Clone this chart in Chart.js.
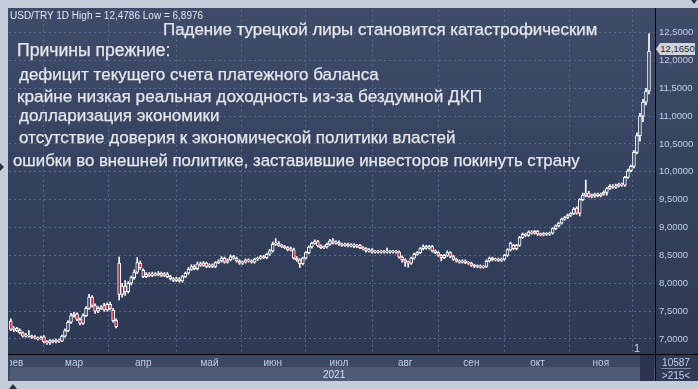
<!DOCTYPE html>
<html>
<head>
<meta charset="utf-8">
<script src="https://cdn.jsdelivr.net/npm/chart.js@4.4.1/dist/chart.umd.min.js"></script>
<style>
html, body { margin: 0; padding: 0; }
body { width: 698px; height: 389px; background: #c3ccd8; position: relative; overflow: hidden;
       font-family: "Liberation Sans", Arial, sans-serif; }
#panel { position: absolute; left: 8px; top: 8px; width: 690px; height: 346px;
         background: linear-gradient(#3e4c6a, #2c3854); }
#band1 { position: absolute; left: 8px; top: 354px; width: 647px; height: 13px; background: #3c4862; }
#band2 { position: absolute; left: 8px; top: 367px; width: 647px; height: 14px; background: #4e5b75; }
#rbox { position: absolute; left: 655px; top: 354px; width: 43px; height: 27px; background: #2e3a56; }
#vline { position: absolute; left: 655px; top: 8px; width: 1px; height: 373px; background: #000; }
#hline { position: absolute; left: 8px; top: 354px; width: 690px; height: 1px; background: #000; }
#scroll { position: absolute; left: 640px; top: 355px; width: 14px; height: 26px; background: #2a344e; }
#lcover { position: absolute; left: 0; top: 0; width: 8px; height: 389px; background: #c3ccd8; }
#bcover { position: absolute; left: 8px; top: 355px; width: 2px; height: 26px; background: #3a465f; }
canvas { position: absolute; left: 0; top: 0; }
.t { position: absolute; color: #e6e7ea; white-space: nowrap; font-size: 17px; line-height: 18px;
     -webkit-text-stroke: 0.25px #e6e7ea; }
.s { position: absolute; color: #c4d0ea; white-space: nowrap; font-size: 10px; line-height: 11px; }
</style>
</head>
<body>
<div id="panel"></div>
<div id="band1"></div>
<div id="band2"></div>
<div id="rbox"></div>
<div id="scroll"></div>
<canvas id="chart" width="698" height="389"></canvas>
<div id="lcover"></div>
<div id="bcover"></div>
<div id="vline"></div>
<div id="hline"></div>

<div class="s" style="left:10px;top:10px;color:#e0e6f2;">USD/TRY 1D High = 12,4786 Low = 6,8976</div>
<div class="t" style="left:163px;top:21px;font-size:16.9px;">Падение турецкой лиры становится катастрофическим</div>
<div class="t" style="left:17px;top:41px;font-size:17.6px;">Причины прежние:</div>
<div class="t" style="left:19px;top:66px;">дефицит текущего счета платежного баланса</div>
<div class="t" style="left:17px;top:87px;font-size:17.2px;">крайне низкая реальная доходность из-за бездумной ДКП</div>
<div class="t" style="left:19px;top:107px;">долларизация экономики</div>
<div class="t" style="left:19px;top:129px;">отсутствие доверия к экономической политики властей</div>
<div class="t" style="left:13px;top:152px;font-size:16.8px;">ошибки во внешней политике, заставившие инвесторов покинуть страну</div>

<div style="position:absolute;left:656px;top:43px;width:0;height:0;border-top:6px solid transparent;border-bottom:6px solid transparent;border-right:4px solid #cfd3d9;"></div>
<div class="s" style="left:660px;top:43px;width:35px;height:12px;line-height:12px;background:#cfd3d9;color:#262a33;text-align:center;font-size:9.5px;">12,1650</div>

<div class="s" style="left:634px;top:343px;font-size:11px;color:#c8d0e0;">1</div>
<div class="s" style="left:323px;top:369px;font-size:10px;color:#d8e0ee;">2021</div>
<div class="s" style="left:660px;top:357px;width:32px;text-align:center;">10587</div>
<div style="position:absolute;left:661px;top:368px;width:30px;height:1px;background:#7d8aa6;"></div>
<div class="s" style="left:660px;top:370px;width:32px;text-align:center;">&gt;215&lt;</div>

<div style="position:absolute;left:0;top:163px;width:0;height:0;border-top:4px solid transparent;border-bottom:4px solid transparent;border-left:4px solid #2a3140;"></div>
<div style="position:absolute;left:9px;top:384px;width:0;height:0;border-left:4px solid transparent;border-right:4px solid transparent;border-bottom:5px solid #2a3140;"></div>
<div style="position:absolute;left:691px;top:0;width:0;height:0;border-left:3px solid transparent;border-right:3px solid transparent;border-top:4px solid #2a3140;"></div>

<script>
// daily candles, 29 Jan 2021 .. 23 Nov 2021 (index = trading day)
const opens = [
  7.32,7.17,7.19,7.16,7.11,7.05,7.07,7.05,7.03,7.02,
  7.00,7.04,6.95,6.93,6.97,6.95,6.98,6.96,7.05,7.15,
  7.30,7.42,7.45,7.35,7.28,7.42,7.55,7.75,7.60,7.50,
  7.55,7.60,7.52,7.62,7.52,7.33,8.36,7.80,7.95,7.85,
  8.00,8.10,8.20,8.36,8.23,8.12,8.16,8.14,8.17,8.15,
  8.18,8.14,8.17,8.12,8.08,8.05,8.08,8.04,8.12,8.18,
  8.25,8.30,8.26,8.35,8.32,8.36,8.30,8.33,8.30,8.37,
  8.40,8.45,8.38,8.42,8.48,8.45,8.40,8.36,8.38,8.42,
  8.40,8.38,8.43,8.45,8.48,8.46,8.52,8.58,8.70,8.72,
  8.68,8.66,8.64,8.60,8.60,8.45,8.42,8.35,8.45,8.55,
  8.65,8.72,8.75,8.67,8.64,8.65,8.70,8.76,8.72,8.74,
  8.70,8.68,8.70,8.67,8.69,8.66,8.68,8.64,8.62,8.58,
  8.60,8.56,8.57,8.56,8.57,8.56,8.57,8.56,8.57,8.56,
  8.47,8.42,8.38,8.36,8.45,8.52,8.55,8.62,8.66,8.63,
  8.66,8.58,8.55,8.50,8.46,8.50,8.55,8.48,8.43,8.40,
  8.38,8.40,8.37,8.36,8.32,8.30,8.31,8.29,8.30,8.40,
  8.45,8.42,8.43,8.41,8.43,8.50,8.60,8.68,8.62,8.68,
  8.82,8.88,8.86,8.92,8.90,8.93,8.88,8.87,8.89,8.88,
  8.90,8.98,9.03,9.08,9.15,9.18,9.22,9.25,9.35,9.26,
  9.50,9.58,9.62,9.56,9.57,9.60,9.57,9.60,9.63,9.70,
  9.74,9.72,9.75,9.78,9.76,9.90,10.02,10.10,10.35,10.65,
  11.00,11.25,11.45
];
const highs = [
  7.36,7.22,7.21,7.18,7.13,7.10,7.15,7.07,7.06,7.04,
  7.05,7.06,6.97,6.99,6.99,7.00,7.00,7.07,7.18,7.33,
  7.46,7.48,7.47,7.38,7.45,7.58,7.80,7.78,7.63,7.58,
  7.60,7.64,7.65,7.66,7.55,7.36,8.47,8.00,8.05,8.03,
  8.13,8.24,8.46,8.40,8.26,8.19,8.19,8.20,8.19,8.21,
  8.20,8.19,8.19,8.14,8.10,8.11,8.10,8.14,8.20,8.28,
  8.33,8.33,8.38,8.38,8.39,8.38,8.35,8.35,8.39,8.42,
  8.48,8.47,8.44,8.51,8.50,8.47,8.42,8.40,8.44,8.44,
  8.42,8.45,8.47,8.50,8.50,8.54,8.61,8.74,8.80,8.75,
  8.70,8.68,8.66,8.65,8.63,8.48,8.44,8.47,8.57,8.67,
  8.74,8.78,8.77,8.69,8.67,8.72,8.79,8.80,8.76,8.76,
  8.72,8.72,8.72,8.71,8.71,8.70,8.70,8.66,8.64,8.62,
  8.62,8.59,8.59,8.59,8.59,8.63,8.59,8.59,8.59,8.58,
  8.49,8.44,8.40,8.47,8.54,8.57,8.64,8.69,8.68,8.68,
  8.68,8.60,8.57,8.52,8.52,8.58,8.57,8.50,8.45,8.42,
  8.42,8.42,8.39,8.38,8.34,8.33,8.33,8.32,8.42,8.47,
  8.47,8.45,8.45,8.45,8.52,8.62,8.74,8.70,8.70,8.84,
  8.90,8.90,8.94,8.94,8.95,8.95,8.90,8.91,8.91,8.92,
  9.00,9.05,9.10,9.17,9.20,9.24,9.27,9.36,9.37,9.52,
  9.62,9.85,9.65,9.60,9.62,9.62,9.62,9.66,9.72,9.77,
  9.77,9.78,9.80,9.80,9.92,10.05,10.12,10.38,10.70,11.05,
  11.30,11.50,12.4786
];
const lows = [
  7.15,7.13,7.13,7.09,7.03,7.03,7.03,7.01,7.00,6.98,
  6.99,6.93,6.90,6.90,6.93,6.93,6.94,6.95,7.03,7.13,
  7.28,7.39,7.33,7.25,7.26,7.40,7.53,7.57,7.46,7.47,
  7.53,7.50,7.50,7.52,7.30,7.20,7.70,7.75,7.78,7.82,
  7.97,8.07,8.17,8.25,8.10,8.10,8.12,8.12,8.13,8.13,
  8.12,8.12,8.10,8.06,8.03,8.03,8.02,8.02,8.10,8.16,
  8.23,8.24,8.24,8.30,8.30,8.28,8.28,8.28,8.28,8.35,
  8.38,8.36,8.36,8.40,8.43,8.38,8.34,8.34,8.36,8.38,
  8.36,8.36,8.41,8.43,8.44,8.44,8.50,8.56,8.68,8.66,
  8.64,8.62,8.58,8.58,8.43,8.39,8.28,8.33,8.43,8.53,
  8.63,8.70,8.65,8.62,8.62,8.63,8.68,8.70,8.70,8.68,
  8.66,8.66,8.65,8.65,8.64,8.64,8.62,8.60,8.56,8.56,
  8.54,8.54,8.54,8.54,8.54,8.54,8.54,8.54,8.54,8.45,
  8.38,8.30,8.29,8.34,8.43,8.50,8.53,8.60,8.61,8.61,
  8.56,8.53,8.48,8.40,8.44,8.48,8.46,8.41,8.38,8.36,
  8.36,8.35,8.34,8.30,8.28,8.28,8.27,8.27,8.28,8.38,
  8.40,8.40,8.39,8.39,8.41,8.48,8.58,8.60,8.60,8.66,
  8.80,8.84,8.84,8.88,8.88,8.86,8.85,8.85,8.86,8.86,
  8.88,8.96,9.01,9.06,9.13,9.16,9.20,9.23,9.24,9.21,
  9.48,9.55,9.54,9.53,9.54,9.55,9.55,9.58,9.58,9.68,
  9.70,9.70,9.73,9.74,9.74,9.88,10.00,10.07,10.32,10.55,
  10.90,11.20,11.40
];
const closes = [
  7.17,7.19,7.15,7.11,7.05,7.07,7.05,7.03,7.02,7.00,
  7.02,6.95,6.93,6.97,6.95,6.98,6.96,7.05,7.15,7.30,
  7.42,7.45,7.35,7.28,7.42,7.55,7.75,7.60,7.50,7.55,
  7.57,7.52,7.62,7.55,7.33,7.22,7.80,7.95,7.85,8.00,
  8.10,8.20,8.37,8.28,8.12,8.16,8.14,8.17,8.15,8.18,
  8.14,8.17,8.12,8.08,8.05,8.08,8.04,8.12,8.18,8.25,
  8.30,8.26,8.35,8.32,8.36,8.30,8.33,8.30,8.37,8.40,
  8.45,8.38,8.42,8.48,8.45,8.40,8.36,8.38,8.42,8.40,
  8.38,8.43,8.45,8.48,8.46,8.52,8.58,8.70,8.72,8.68,
  8.66,8.64,8.60,8.62,8.45,8.42,8.35,8.45,8.55,8.65,
  8.72,8.75,8.67,8.64,8.65,8.70,8.76,8.72,8.74,8.70,
  8.68,8.70,8.67,8.69,8.66,8.68,8.64,8.62,8.58,8.60,
  8.56,8.57,8.56,8.57,8.56,8.57,8.56,8.57,8.56,8.47,
  8.42,8.38,8.36,8.45,8.52,8.55,8.62,8.66,8.63,8.66,
  8.58,8.55,8.50,8.46,8.50,8.55,8.48,8.43,8.40,8.38,
  8.40,8.37,8.36,8.32,8.30,8.31,8.29,8.30,8.40,8.45,
  8.42,8.43,8.41,8.43,8.50,8.60,8.72,8.62,8.68,8.82,
  8.88,8.86,8.92,8.90,8.93,8.88,8.87,8.89,8.88,8.90,
  8.98,9.03,9.08,9.15,9.18,9.22,9.25,9.33,9.26,9.50,
  9.58,9.62,9.56,9.57,9.60,9.57,9.60,9.63,9.70,9.74,
  9.72,9.75,9.78,9.76,9.90,10.02,10.10,10.35,10.65,11.00,
  11.25,11.45,12.165
];

// first trading day of each month (index into the arrays above)
const monthStarts = [1, 21, 44, 66, 87, 109, 131, 153, 175, 196];
const monthNames = ["фев", "мар", "апр", "май", "июн", "июл", "авг", "сен", "окт", "ноя"];
const yTicks = [7.0, 7.5, 8.0, 8.5, 9.0, 9.5, 10.0, 10.5, 11.0, 11.5, 12.0, 12.5];

const UP_FILL = "#34415f";
const DOWN_FILL = "#e0142e";
const GRID = "#5a6a8c";
const LABEL = "#c4d0ea";

const bodies = opens.map((o, i) => ({ x: i, y: [o, closes[i]] }));
const wicks = highs.map((h, i) => ({ x: i, y: [lows[i], h] }));
const bodyColors = opens.map((o, i) => closes[i] < o ? DOWN_FILL : UP_FILL);

new Chart(document.getElementById("chart"), {
    type: "bar",
    data: {
        datasets: [{
            data: bodies,
            backgroundColor: bodyColors,
            borderColor: "#ffffff",
            borderWidth: 1,
            borderSkipped: false,
            barThickness: 3,
            minBarLength: 1,
            grouped: false
        }, {
            data: wicks,
            backgroundColor: "#ffffff",
            borderWidth: 0,
            barThickness: 1,
            grouped: false
        }]
    },
    options: {
        responsive: false,
        animation: false,
        layout: { padding: { left: 9, top: 8, right: 0, bottom: 8 } },
        plugins: { legend: { display: false }, tooltip: { enabled: false } },
        scales: {
            x: {
                type: "linear",
                min: -0.6,
                max: 214,
                offset: false,
                afterBuildTicks: s => { s.ticks = monthStarts.map(v => ({ value: v })); },
                afterFit: s => { s.height = 27; },
                grid: { color: GRID, drawTicks: false },
                border: { display: false, dash: [2, 3] },
                ticks: {
                    autoSkip: false,
                    maxRotation: 0,
                    padding: 3,
                    color: LABEL,
                    font: { family: "Liberation Sans", size: 10 },
                    callback: v => monthNames[monthStarts.indexOf(v)]
                }
            },
            y: {
                position: "right",
                min: 6.73,
                max: 12.91,
                afterBuildTicks: s => { s.ticks = yTicks.map(v => ({ value: v })); },
                afterFit: s => { s.width = 43; },
                grid: { color: GRID, drawTicks: false },
                border: { display: false, dash: [2, 3] },
                ticks: {
                    padding: 4,
                    color: LABEL,
                    font: { family: "Liberation Sans", size: 9.5 },
                    callback: v => v.toFixed(4).replace(".", ",")
                }
            }
        }
    }
});
</script>
</body>
</html>
